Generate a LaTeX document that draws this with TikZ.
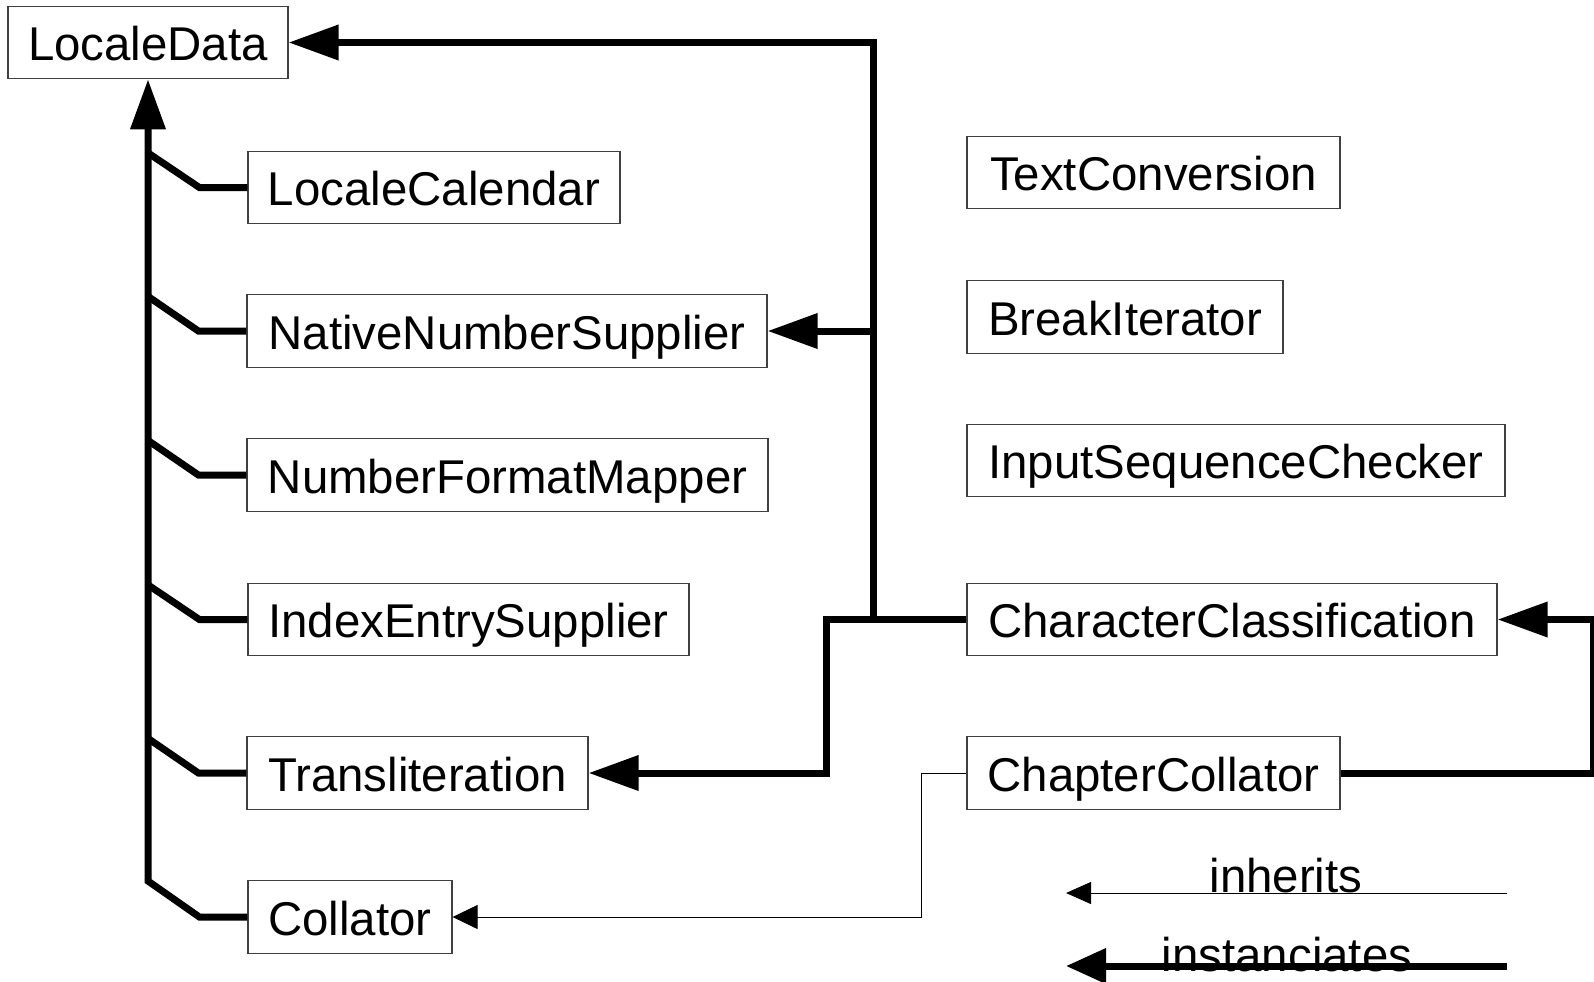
\documentclass[tikz,border=0pt]{standalone}
\usepackage{fontspec}
\setmainfont{Liberation Sans}
\usetikzlibrary{arrows.meta}
\begin{document}
\begin{tikzpicture}[x=0.5pt,y=-0.5pt,
  box/.style={draw=black!75, line width=0.6pt, minimum height=36.25pt, inner sep=0pt,
    text height=18pt, text depth=0pt, font=\fontsize{23.7}{28}\selectfont},
  heavy/.style={line width=3.5pt},
  heavytip/.style={-{Triangle[length=25pt,width=17pt]}},
  lite/.style={line width=0.5pt},
  litetip/.style={-{Triangle[length=12.5pt,width=12pt]}},
  lbl/.style={font=\fontsize{23.7}{28}\selectfont, inner sep=0pt, anchor=base}]
\useasboundingbox[fill=white] (0,0) rectangle (1594,981);

% boxes
\node[box, minimum width=140pt]   (LD)  at (148,42.5)   {LocaleData};
\node[box, minimum width=186pt]   (LC)  at (434,187.5)  {LocaleCalendar};
\node[box, minimum width=260pt]   (NNS) at (507,331)    {NativeNumberSupplier};
\node[box, minimum width=260.5pt] (NFM) at (507.5,475)  {NumberFormatMapper};
\node[box, minimum width=220.5pt] (IES) at (468.5,619.5){IndexEntrySupplier};
\node[box, minimum width=170.5pt] (TR)  at (417.5,773)  {Transliteration};
\node[box, minimum width=102pt]   (CO)  at (350,917)    {Collator};
\node[box, minimum width=186.5pt] (TC)  at (1153.5,172.5){TextConversion};
\node[box, minimum width=158pt]   (BI)  at (1125,317)   {BreakIterator};
\node[box, minimum width=269pt]   (ISC) at (1236,460.5) {InputSequenceChecker};
\node[box, minimum width=265pt]   (CC)  at (1232,619.5) {CharacterClassification};
\node[box, minimum width=186.5pt] (CH)  at (1153.5,773) {ChapterCollator};

% helper coordinates
\coordinate (spinebot) at (148,881);
\coordinate (jx) at (873,0);
\coordinate (bx) at (826,0);
\coordinate (rx) at (1593,0);
\coordinate (tx) at (921,0);

% inheritance tree (thick, to LocaleData)
\draw[heavy,heavytip] (CO.west) -- ++(-48,0) -- (spinebot) -- (LD.south);
\draw[heavy] (LC.west)  -- ++(-48,0) -- ++(-52,-35);
\draw[heavy] (NNS.west) -- ++(-48,0) -- ++(-51,-35);
\draw[heavy] (NFM.west) -- ++(-48,0) -- ++(-51,-35);
\draw[heavy] (IES.west) -- ++(-48,0) -- ++(-52,-35);
\draw[heavy] (TR.west)  -- ++(-48,0) -- ++(-51,-35);

% instantiation from CharacterClassification
\draw[heavy,heavytip] (CC.west) -- (CC.west -| jx) |- (LD.east);
\draw[heavy,heavytip] (jx |- NNS.east) -- (NNS.east);
\draw[heavy,heavytip] (CC.west -| jx) -- (CC.west -| bx) |- (TR.east);

% ChapterCollator -> CharacterClassification
\draw[heavy,heavytip] (CH.east) -- (CH.east -| rx) |- (CC.east);

% ChapterCollator -> Collator (thin)
\draw[lite,litetip] (CH.west) -- (CH.west -| tx) |- (CO.east);

% legend
\coordinate (inhA) at (1507,893);
\coordinate (inhB) at (1066,893);
\node[lbl] (inhT) at (1286,892) {inherits};
\draw[lite,-{Triangle[length=12.5pt,width=11pt]}] (inhA) -- (inhB);

\coordinate (insA) at (1507,966);
\coordinate (insB) at (1066,966);
\node[lbl] (insT) at (1287,971) {instanciates};
\draw[heavy,-{Triangle[length=20pt,width=17pt]}] (insA) -- (insB);
\end{tikzpicture}
\end{document}
